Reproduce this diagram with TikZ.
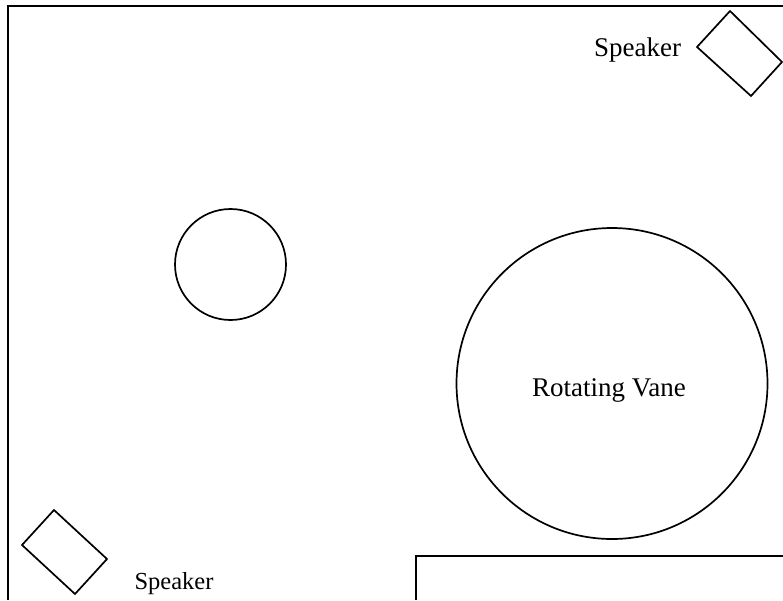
\documentclass[tikz,border=0pt]{standalone}
\usepackage{fontspec}
\setmainfont{Liberation Serif}
\tikzset{
  px/.style={x=1pt,y=-1pt},
  outline/.style={draw=black,line width=2pt,line join=miter},
  shapeline/.style={draw=black,line width=1.7pt,line join=miter},
  roundpart/.style={circle,draw=black,line width=1.7pt,inner sep=0pt},
  label/.style={inner sep=0pt,text=black,anchor=base},
  biglabel/.style={label,font=\fontsize{27}{30}\selectfont},
  smalllabel/.style={label,font=\fontsize{24.5}{28}\selectfont}
}
\begin{document}
\begin{tikzpicture}[px]
\useasboundingbox (0,0) rectangle (783,600);
\fill[white] (0,0) rectangle (783,600);
\draw[outline] (8,600) -- (8,5.5) -- (783,5.5);
\draw[outline] (416,600) -- (416,555.5) -- (783,555.5);
\draw[shapeline] (730,11) -- (782,62) -- (751,96) -- (697,47) -- cycle;
\draw[shapeline] (54,510) -- (107,559) -- (75,594) -- (22,545) -- cycle;
\node[roundpart,minimum size=111pt] (ball) at (230.5,264.5) {};
\node[roundpart,minimum size=311pt] (vane) at (612,383.5) {};
\node[biglabel] (vanetext) at (609,396.5) {Rotating Vane};
\node[biglabel] (speakertop) at (637.5,56) {Speaker};
\node[smalllabel] (speakerbottom) at (174,589) {Speaker};
\end{tikzpicture}
\end{document}
